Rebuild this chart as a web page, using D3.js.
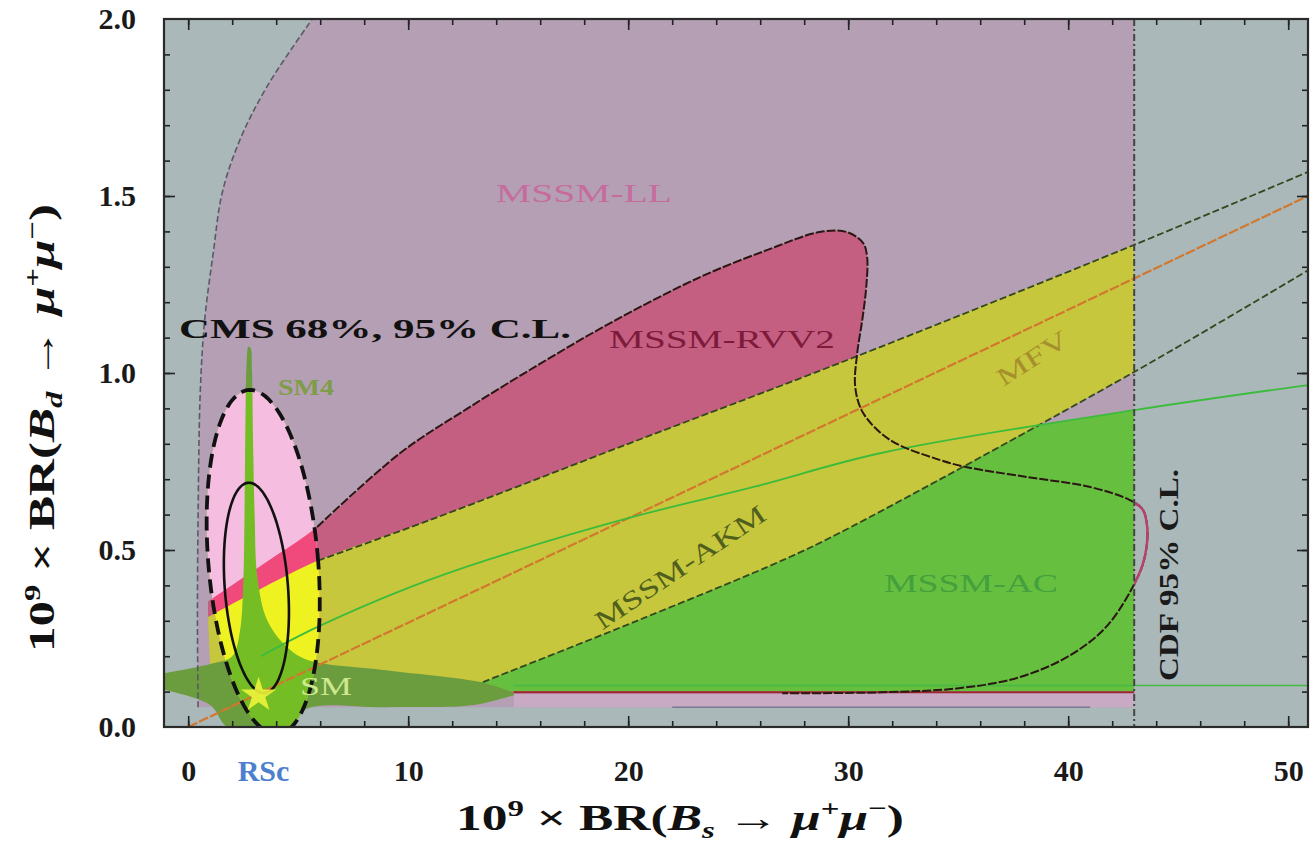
<!DOCTYPE html>
<html><head><meta charset="utf-8">
<script src="https://cdn.jsdelivr.net/npm/d3@7"></script>
<style>
body{margin:0;background:#fff;}
svg{display:block;}
text{font-family:"Liberation Serif","DejaVu Serif",serif;}
</style>
</head><body>
<svg id="c" width="1310" height="846"></svg>
<script>
// ---------------- data ----------------
const xTickLabelValues = [0, 3.4, 10, 20, 30, 40, 50];
const xTickLabels = ["0", "RSc", "10", "20", "30", "40", "50"];
const yTickValues = [0, 0.5, 1.0, 1.5, 2.0];
const yTickLabels = ["0.0", "0.5", "1.0", "1.5", "2.0"];
const xMinorTicks = [0,2,4,6,8,10,12,14,16,18,20,22,24,26,28,30,32,34,36,38,40,42,44,46,48,50];
const xMajorTicks = [0,10,20,30,40,50];
const yMinorTicks = [0.1,0.2,0.3,0.4,0.5,0.6,0.7,0.8,0.9,1.0,1.1,1.2,1.3,1.4,1.5,1.6,1.7,1.8,1.9];
const yMajorTicks = [0.5,1.0,1.5];
const cdfLimit = 43;

// MSSM-LL left boundary (bottom -> top)
const llBoundary = [[0.45,0.056],[0.42,0.3],[0.45,0.6],[0.55,0.95],[0.75,1.15],[1.14,1.34],[1.55,1.51],[2.36,1.66],[3.59,1.81],[5.64,2.0]];
const llBottom = 0.056;

// MSSM-RVV2 outline (upper-left along tongue, round right side, down to bottom)
const rvv2Outline = [[5.86,0.565],[9.64,0.774],[12.7,0.9],[16.1,1.03],[19.3,1.145],[23.27,1.271],[26.3,1.347],[28.7,1.398],[29.95,1.398],[30.68,1.367],[30.86,1.328],[30.82,1.243],[30.64,1.15],[30.41,1.056],[30.32,0.96],[30.68,0.887],[31.9,0.811],[34.18,0.754],[35.4,0.734],[38.14,0.706],[41.0,0.678],[42.8,0.641],[43.4,0.613],[43.6,0.556],[43.5,0.486],[43.2,0.429],[41.8,0.288],[40.1,0.203],[37.8,0.141],[35.1,0.11],[31.5,0.098],[27,0.095]];
const rvv2Start = [[0.9,0.355],[3.4,0.46]];
const rvv2BottomY = 0.095;

// MFV band / MSSM-AKM (yellow)
const mfvUpper = [[0.9,0.31],[5.9,0.47],[11.0,0.585],[20,0.80],[29.6,1.028],[43,1.362],[50.9,1.568]];
const akmLower = [[13.4,0.127],[20.4,0.30],[27.05,0.472],[29.6,0.548],[43,1.003],[50.9,1.29]];
const mfvCentral = [[0,0],[50.9,1.50]];

// MSSM-AC (green) upper boundary
const acUpper = [[3.3,0.2],[5.86,0.282],[10.09,0.395],[13.6,0.472],[20,0.59],[25.7,0.678],[31.5,0.774],[43,0.895],[50.9,0.966]];
const acLowerY = 0.1;
const acBottomLine = [[14.8,0.117],[50.9,0.117]];

// SM4 (dark green): top edge left->right, bottom edge right->left
const sm4Top = [[-1.1,0.152],[1.0,0.178],[2.0,0.2],[2.35,0.27],[2.5,0.4],[2.56,0.6],[2.6,0.85],[2.65,1.02],[2.74,1.075],[2.84,1.07],[2.9,1.0],[2.95,0.8],[3.02,0.6],[3.15,0.42],[3.6,0.3],[4.5,0.225],[5.4,0.19],[9,0.16],[13.4,0.125],[14.8,0.096]];
const sm4Bottom = [[14.8,0.09],[13,0.062],[9,0.056],[5.4,0.052],[4.6,0.0],[1.8,0.0],[1.0,0.062],[-1.1,0.105]];

// CMS ellipses (centre, semi-axes, tilt shift)
const cms95 = {cx:3.41, cy:0.466, a:2.5, b:0.486, s:0.6};
const cms68 = {cx:3.1, cy:0.393, a:1.44, b:0.297, s:0.34};
const smPoint = [3.2, 0.09];

// ---------------- drawing ----------------
const svg = d3.select("#c");
const X = d3.scaleLinear().domain([-1.1, 50.9]).range([164, 1308]);
const Y = d3.scaleLinear().domain([0, 2]).range([727, 19]);
const x0 = X.domain()[0], x1 = X.domain()[1];

const defs = svg.append("defs");
defs.append("clipPath").attr("id","plot").append("rect")
  .attr("x",X(x0)).attr("y",Y(2)).attr("width",X(x1)-X(x0)).attr("height",Y(0)-Y(2));
defs.append("clipPath").attr("id","cdf").append("rect")
  .attr("x",X(x0)).attr("y",Y(2)).attr("width",X(cdfLimit)-X(x0)).attr("height",Y(0)-Y(2));
defs.append("clipPath").attr("id","beyond").append("rect")
  .attr("x",X(cdfLimit)).attr("y",Y(2)).attr("width",X(x1)-X(cdfLimit)).attr("height",Y(0)-Y(2));

const smooth = d3.line().x(d=>X(d[0])).y(d=>Y(d[1])).curve(d3.curveCatmullRom.alpha(0.5));
const straight = d3.line().x(d=>X(d[0])).y(d=>Y(d[1]));

function ellipsePts(e){
  const pts=[];
  for(let i=0;i<=120;i++){const t=i/120*2*Math.PI;
    pts.push([e.cx+e.a*Math.cos(t)-e.s*Math.sin(t), e.cy+e.b*Math.sin(t)]);}
  return pts;
}
defs.append("clipPath").attr("id","ell").append("path").attr("d", straight(ellipsePts(cms95))+"Z");

const plot = svg.append("g").attr("clip-path","url(#plot)");
plot.append("rect").attr("x",X(x0)).attr("y",Y(2)).attr("width",X(x1)-X(x0)).attr("height",Y(0)-Y(2)).attr("fill","#aab8b9");

const fills = plot.append("g").attr("clip-path","url(#cdf)");

function llShape(){ return smooth(llBoundary) + "L"+X(cdfLimit+1)+","+Y(2.1)+"L"+X(cdfLimit+1)+","+Y(llBottom)+"Z"; }
function rvv2Shape(){ return smooth(rvv2Start.concat(rvv2Outline)) + "L"+X(14.8)+","+Y(rvv2BottomY)+"L"+X(8)+","+Y(0.2)+"L"+X(0.9)+","+Y(0.3)+"Z"; }
function yellowShape(){
  const up = mfvUpper.filter(d=>d[0]<=cdfLimit);
  const lo = akmLower.filter(d=>d[0]<=cdfLimit).slice().reverse();
  return smooth(up)+"L"+X(cdfLimit)+","+Y(1.003)+smooth(lo).replace(/^M/,"L")+"L"+X(8)+","+Y(0.15)+"L"+X(1.0)+","+Y(0.17)+"Z";
}
function acShape(){ return smooth(acUpper.filter(d=>d[0]<=cdfLimit)) + "L"+X(cdfLimit)+","+Y(acLowerY)+"L"+X(3.3)+","+Y(acLowerY)+"Z"; }
function sm4Shape(){ return smooth(sm4Top)+"L"+smooth(sm4Bottom).slice(1)+"Z"; }

function drawRegions(g, col){
  g.append("path").attr("d", llShape()).attr("fill", col.ll);
  g.append("rect").attr("x",X(14.8)).attr("y",Y(rvv2BottomY)).attr("width",X(cdfLimit)-X(14.8)).attr("height",Y(llBottom)-Y(rvv2BottomY)).attr("fill",col.strip);
  g.append("path").attr("d", rvv2Shape()).attr("fill", col.rvv2);
  g.append("path").attr("d", acShape()).attr("fill", col.ac);
  g.append("path").attr("d", yellowShape()).attr("fill", col.yellow);
  g.append("path").attr("d", sm4Shape()).attr("fill", col.sm4);
}
drawRegions(fills, {ll:"#b49fb4", strip:"#c9aac4", rvv2:"#c45f82", ac:"#66bf3f", yellow:"#c7c73d", sm4:"#6b9d3f"});

// bright copies inside CMS 95% ellipse
const bright = plot.append("g").attr("clip-path","url(#ell)");
bright.append("rect").attr("x",X(x0)).attr("y",Y(2)).attr("width",X(x1)-X(x0)).attr("height",Y(0)-Y(2)).attr("fill","#7cc21c");
drawRegions(bright, {ll:"#f5bde0", strip:"#f5bde0", rvv2:"#f04a7c", ac:"#80c820", yellow:"#eef220", sm4:"#74bd24"});

// bottom thin lines
plot.append("path").attr("d", straight([[14.8,rvv2BottomY+0.003],[cdfLimit,rvv2BottomY+0.003]])).attr("stroke","#9e2430").attr("stroke-width",2).attr("fill","none");
plot.append("path").attr("d", straight([[22,llBottom],[41,llBottom]])).attr("stroke","#7a7890").attr("stroke-width",1.5).attr("fill","none");
plot.append("path").attr("d", straight(acBottomLine)).attr("stroke","#45b845").attr("stroke-width",1.5).attr("fill","none");

// LL boundary dashed
plot.append("path").attr("d", smooth(llBoundary)).attr("stroke","#5a5a66").attr("stroke-width",1.6).attr("stroke-dasharray","6,3").attr("fill","none");

// MFV band lines
plot.append("path").attr("d", smooth(mfvUpper.filter(d=>d[0]>=5.9))).attr("stroke","#34481e").attr("stroke-width",1.8).attr("stroke-dasharray","7,3").attr("fill","none");
plot.append("path").attr("d", smooth(akmLower)).attr("stroke","#34481e").attr("stroke-width",1.8).attr("stroke-dasharray","7,3").attr("fill","none");
plot.append("path").attr("d", straight(mfvCentral)).attr("stroke","#d2782e").attr("stroke-width",2.2).attr("stroke-dasharray","10,2").attr("fill","none");
plot.append("path").attr("d", smooth(acUpper)).attr("stroke","#3cbb3c").attr("stroke-width",1.8).attr("fill","none");

// RVV2 outline
plot.append("path").attr("d", smooth(rvv2Outline)).attr("stroke","#2b1612").attr("stroke-width",2).attr("stroke-dasharray","9,2").attr("fill","none");
plot.append("g").attr("clip-path","url(#beyond)").append("path").attr("d", smooth(rvv2Outline)).attr("stroke","#b8436a").attr("stroke-width",2.5).attr("fill","none");

// CMS ellipses
plot.append("path").attr("d", smooth(ellipsePts(cms68))).attr("stroke","#111").attr("stroke-width",2.6).attr("fill","none");
plot.append("path").attr("d", smooth(ellipsePts(cms95))).attr("stroke","#111").attr("stroke-width",3.8).attr("stroke-dasharray","14,7").attr("fill","none");

// SM star
plot.append("path").attr("d", d3.symbol(d3.symbolStar).size(380)())
  .attr("transform",`translate(${X(smPoint[0])},${Y(smPoint[1])})`).attr("fill","#eef43a").attr("opacity",0.9);

// CDF line
plot.append("line").attr("x1",X(cdfLimit)).attr("x2",X(cdfLimit)).attr("y1",Y(2)).attr("y2",Y(0))
  .attr("stroke","#444").attr("stroke-width",2).attr("stroke-dasharray","7,3,2,3");

// ---------------- labels ----------------
function label(txt, cx, cy, opt){
  const t = svg.append("text").attr("x",cx).attr("y",cy).attr("dy","0.35em").attr("text-anchor","middle")
    .attr("font-size",opt.size).attr("fill",opt.color).text(txt);
  if(opt.weight) t.attr("font-weight",opt.weight);
  if(opt.len){ t.attr("textLength",opt.len).attr("lengthAdjust","spacingAndGlyphs"); }
  if(opt.rot) t.attr("transform",`rotate(${opt.rot},${cx},${cy})`);
  return t;
}
label("MSSM-LL", 584, 193, {size:26, color:"#c66c9d", len:176});
label("CMS 68%, 95% C.L.", 375, 328, {size:28, color:"#111", weight:"bold", len:392});
label("MSSM-RVV2", 722, 339, {size:26, color:"#7e1b3b", len:226});
label("SM4", 306, 387, {size:24, color:"#7f9d48", weight:"bold", len:56});
label("MFV", 1032, 358, {size:25, color:"#a68f2c", len:80, rot:-33});
label("MSSM-AKM", 680, 567, {size:26, color:"#4f5f1c", len:200, rot:-34});
label("MSSM-AC", 971, 583, {size:26, color:"#43a03d", len:174});
label("SM", 326, 686, {size:26, color:"#cfe88e", len:52});
label("CDF 95% C.L.", 1168, 575, {size:28, color:"#1a1a1a", weight:"bold", len:212, rot:-90});

// ---------------- axes ----------------
function tickAxis(axis, transform, vals, size){
  const g = svg.append("g").attr("transform",transform)
    .call(axis.tickValues(vals).tickSize(size).tickFormat(""));
  g.select(".domain").remove();
  g.selectAll(".tick line").attr("stroke","#222").attr("stroke-width",1.6);
}
tickAxis(d3.axisBottom(X), `translate(0,${Y(0)})`, xMinorTicks, -6);
tickAxis(d3.axisBottom(X), `translate(0,${Y(0)})`, xMajorTicks, -11);
tickAxis(d3.axisTop(X), `translate(0,${Y(2)})`, xMinorTicks, -6);
tickAxis(d3.axisTop(X), `translate(0,${Y(2)})`, xMajorTicks, -11);
tickAxis(d3.axisLeft(Y), `translate(${X(x0)},0)`, yMinorTicks, -6);
tickAxis(d3.axisLeft(Y), `translate(${X(x0)},0)`, yMajorTicks, -11);
tickAxis(d3.axisRight(Y), `translate(${X(x1)},0)`, yMinorTicks, -6);
tickAxis(d3.axisRight(Y), `translate(${X(x1)},0)`, yMajorTicks, -11);

svg.append("rect").attr("x",X(x0)).attr("y",Y(2)).attr("width",X(x1)-X(x0)).attr("height",Y(0)-Y(2))
  .attr("fill","none").attr("stroke","#2a2a2a").attr("stroke-width",2.2);

// tick labels
const xl = svg.append("g").attr("transform",`translate(0,${Y(0)})`)
  .call(d3.axisBottom(X).tickValues(xTickLabelValues).tickSize(0).tickPadding(33).tickFormat((d,i)=>xTickLabels[i]));
xl.select(".domain").remove();
xl.attr("font-size",30);
xl.selectAll("text").style("font-size","30px").attr("font-weight","bold").attr("fill",(d,i)=>i===1?"#4d7fd0":"#1a1a1a")
  .attr("font-family","'Liberation Serif',serif");
const yl = svg.append("g").attr("transform",`translate(${X(x0)},0)`)
  .call(d3.axisLeft(Y).tickValues(yTickValues).tickSize(0).tickPadding(28).tickFormat((d,i)=>yTickLabels[i]));
yl.select(".domain").remove();
yl.attr("font-size",30);
yl.selectAll("text").style("font-size","30px").attr("font-weight","bold").attr("fill","#1a1a1a")
  .attr("font-family","'Liberation Serif',serif");

// axis titles
function title(g, sub){
  const t = g.append("text").attr("text-anchor","middle").attr("font-size",36).attr("font-weight","bold").attr("fill","#111")
    .attr("textLength",448).attr("lengthAdjust","spacingAndGlyphs");
  t.append("tspan").text("10");
  t.append("tspan").attr("dy",-14).attr("font-size",23).text("9");
  t.append("tspan").attr("dy",14).text(" × BR(");
  t.append("tspan").attr("font-style","italic").text("B");
  t.append("tspan").attr("dy",8).attr("font-size",23).attr("font-style","italic").text(sub);
  t.append("tspan").attr("dy",-8).text(" → ");
  t.append("tspan").attr("font-style","italic").text("μ");
  t.append("tspan").attr("dy",-14).attr("font-size",23).text("+");
  t.append("tspan").attr("dy",14).attr("font-style","italic").text("μ");
  t.append("tspan").attr("dy",-14).attr("font-size",23).text("−");
  t.append("tspan").attr("dy",14).text(")");
  return t;
}
title(svg.append("g").attr("transform","translate(680,830)"), "s");
title(svg.append("g").attr("transform","translate(54,428) rotate(-90)"), "d");
</script>
</body></html>
